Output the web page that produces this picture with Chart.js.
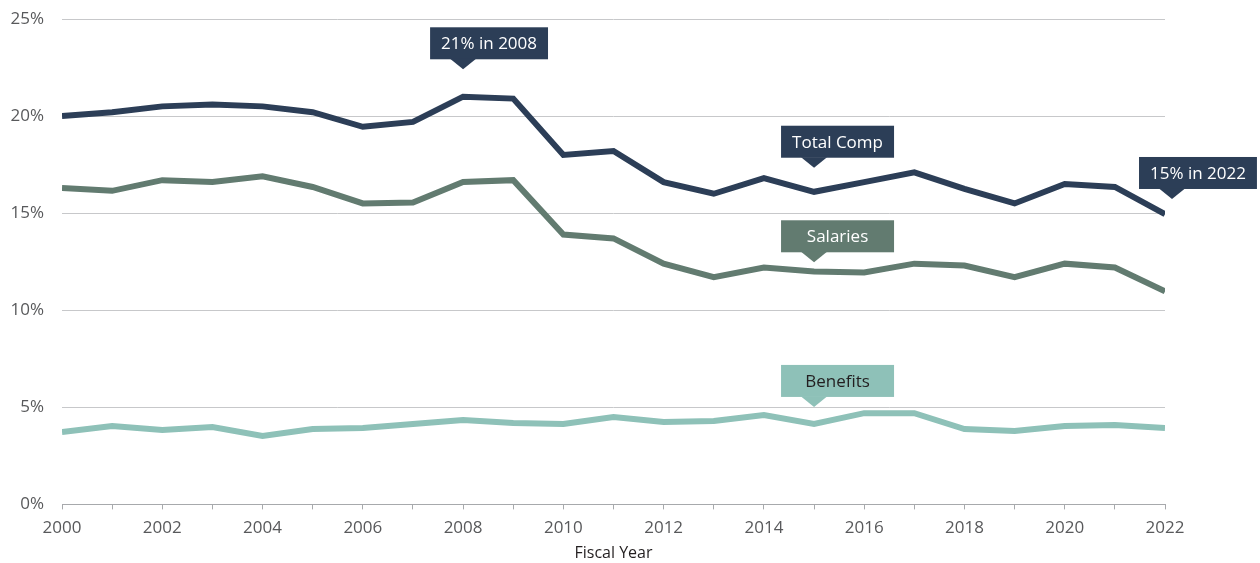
<!DOCTYPE html>
<html>
<head>
<meta charset="utf-8">
<title>Compensation share, fiscal years 2000-2022</title>
<script src="https://cdn.jsdelivr.net/npm/chart.js@4"></script>
<style>
  html, body { margin: 0; padding: 0; background: #ffffff; }
  #wrap { width: 1260px; height: 563px; position: relative; }
</style>
</head>
<body>
<div id="wrap"><canvas id="chart"></canvas></div>
<script>
const years = [2000, 2001, 2002, 2003, 2004, 2005, 2006, 2007, 2008, 2009, 2010, 2011,
  2012, 2013, 2014, 2015, 2016, 2017, 2018, 2019, 2020, 2021, 2022];

const totalComp = [20.0, 20.2, 20.5, 20.6, 20.5, 20.2, 19.45, 19.7, 21.0, 20.9, 18.0, 18.2,
  16.6, 16.0, 16.8, 16.1, 16.6, 17.1, 16.25, 15.5, 16.5, 16.35, 14.95];

const salaries = [16.3, 16.15, 16.7, 16.6, 16.9, 16.35, 15.5, 15.55, 16.6, 16.7, 13.9, 13.7,
  12.4, 11.7, 12.2, 12.0, 11.95, 12.4, 12.3, 11.7, 12.4, 12.2, 10.97];

const benefits = [3.73, 4.04, 3.83, 3.99, 3.52, 3.88, 3.93, 4.14, 4.35, 4.19, 4.14, 4.5,
  4.24, 4.3, 4.6, 4.14, 4.7, 4.7, 3.88, 3.78, 4.04, 4.09, 3.93];

const yTicks = [0, 5, 10, 15, 20, 25];

// callouts: text plus where the pointer tip sits, in data units
const callouts = [
  { text: '21% in 2008', year: 2008, pct: 22.41, fill: '#2c3e57', color: '#ffffff' },
  { text: 'Total Comp', year: 2015, pct: 17.34, fill: '#2c3e57', color: '#ffffff' },
  { text: '15% in 2022', year: 2022.14, pct: 15.73, fill: '#2c3e57', color: '#ffffff' },
  { text: 'Salaries', year: 2015, pct: 12.47, fill: '#627b70', color: '#ffffff' },
  { text: 'Benefits', year: 2015, pct: 5.02, fill: '#8ec1b8', color: '#231f20' }
];

const FONT = '"Open Sans", "Noto Sans", sans-serif';

const toPoints = (values) => values.map((v, i) => ({ x: years[i], y: v }));

const calloutPlugin = {
  id: 'callouts',
  afterDatasetsDraw(chart) {
    const { ctx, scales } = chart;
    ctx.save();
    ctx.font = `17px ${FONT}`;
    ctx.textBaseline = 'middle';
    ctx.textAlign = 'center';
    callouts.forEach((c) => {
      const tipX = scales.x.getPixelForValue(c.year);
      const tipY = scales.y.getPixelForValue(c.pct);
      const w = Math.max(113, ctx.measureText(c.text).width + 22);
      const h = 32;
      const left = tipX - 33;
      const bottom = tipY - 10;
      ctx.fillStyle = c.fill;
      ctx.fillRect(left, bottom - h, w, h);
      ctx.beginPath();
      ctx.moveTo(tipX - 13, bottom - 0.5);
      ctx.lineTo(tipX + 13, bottom - 0.5);
      ctx.lineTo(tipX, tipY);
      ctx.closePath();
      ctx.fill();
      ctx.fillStyle = c.color;
      ctx.fillText(c.text, left + w / 2, bottom - h / 2 + 1);
    });
    ctx.restore();
  }
};

const lineStyle = (color) => ({
  borderColor: color,
  backgroundColor: color,
  borderWidth: 6,
  pointRadius: 0,
  pointHoverRadius: 0,
  tension: 0,
  fill: false
});

new Chart(document.getElementById('chart'), {
  type: 'line',
  data: {
    datasets: [
      { label: 'Benefits', data: toPoints(benefits), ...lineStyle('#8ec1b8') },
      { label: 'Salaries', data: toPoints(salaries), ...lineStyle('#627b70') },
      { label: 'Total Comp', data: toPoints(totalComp), ...lineStyle('#2c3e57') }
    ]
  },
  options: {
    responsive: true,
    maintainAspectRatio: false,
    animation: false,
    layout: { padding: { top: 19, right: 95, left: 0, bottom: 0 } },
    plugins: {
      legend: { display: false },
      tooltip: { enabled: false }
    },
    scales: {
      x: {
        type: 'linear',
        min: 2000,
        max: 2022,
        afterBuildTicks(scale) {
          scale.ticks = years.map((y) => ({ value: y }));
        },
        ticks: {
          autoSkip: false,
          maxRotation: 0,
          padding: 9,
          color: '#58595b',
          font: { family: FONT, size: 17 },
          callback: (v) => (v % 2 === 0 ? String(v) : '')
        },
        grid: {
          drawOnChartArea: false,
          drawTicks: true,
          tickLength: 5,
          color: '#a7a9ac'
        },
        border: { display: true, color: '#a7a9ac', width: 1 },
        title: {
          display: true,
          text: 'Fiscal Year',
          color: '#231f20',
          font: { family: FONT, size: 16 },
          // tick padding is counted twice in the axis height, so claw it back here
          padding: { top: -4, bottom: 0 }
        }
      },
      y: {
        min: 0,
        max: 25,
        afterBuildTicks(scale) {
          scale.ticks = yTicks.map((v) => ({ value: v }));
        },
        afterFit(scale) {
          scale.width = 62;
        },
        ticks: {
          padding: 0,
          color: '#58595b',
          font: { family: FONT, size: 17 },
          callback: (v) => `${v}%`
        },
        grid: {
          // invisible tick marks push the labels off the plot edge
          drawTicks: true,
          tickLength: 18,
          tickColor: 'rgba(0,0,0,0)',
          color: '#c7c8ca',
          lineWidth: 1
        },
        border: { display: false }
      }
    }
  },
  plugins: [calloutPlugin]
});
</script>
</body>
</html>
